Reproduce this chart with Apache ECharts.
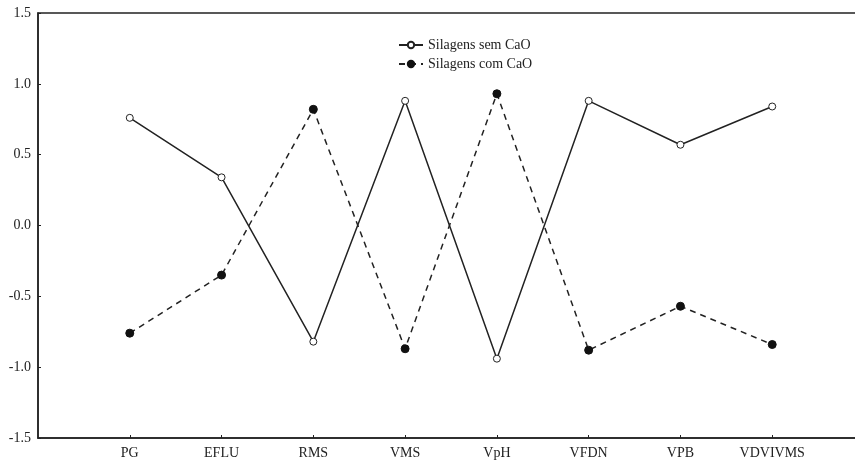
<!DOCTYPE html>
<html>
<head>
<meta charset="utf-8">
<script src="https://cdn.jsdelivr.net/npm/echarts@6/dist/echarts.min.js"></script>
<style>
  html, body { margin: 0; padding: 0; background: #fff; }
  #chart { width: 855px; height: 462px; }
</style>
</head>
<body>
<div id="chart"></div>
<script>
// categorias do eixo x
let categorias = ['PG', 'EFLU', 'RMS', 'VMS', 'VpH', 'VFDN', 'VPB', 'VDVIVMS']
// valores
let semCaO = [0.76, 0.34, -0.82, 0.88, -0.94, 0.88, 0.57, 0.84]
let comCaO = [-0.76, -0.35, 0.82, -0.87, 0.93, -0.88, -0.57, -0.84]
let yTicks = [-1.5, -1.0, -0.5, 0.0, 0.5, 1.0, 1.5]

let fonte = 'Liberation Serif'
let cor = '#222'

// posicoes vazias nas pontas para deixar espaco antes do PG e depois do ultimo
let cats = [''].concat(categorias, [''])
let pad = function(arr) { return [null].concat(arr, [null]) }

let setChart = function(ele, options) {
    if (typeof echarts === 'object') {
        let myChart = echarts.init(ele)
        myChart.setOption(options)
        return myChart
    }
}

setChart(document.getElementById('chart'), {
    animation: false,
    backgroundColor: '#fff',
    grid: {
        left: 38, top: 13, right: -9, bottom: 24,
        outerBoundsMode: 'none',
        show: true, borderColor: cor, borderWidth: 1.5
    },
    legend: {
        orient: 'vertical',
        left: 393, top: 33,
        itemGap: 5, itemWidth: 24, itemHeight: 8,
        textStyle: { fontFamily: fonte, fontSize: 14, color: '#222' },
        data: ['Silagens sem CaO', 'Silagens com CaO']
    },
    xAxis: {
        type: 'category',
        data: cats,
        boundaryGap: false,
        axisLine: { onZero: false, lineStyle: { color: cor, width: 1.5 } },
        axisTick: {
            inside: true, length: 3,
            lineStyle: { color: cor },
            interval: function(i) { return i > 0 && i < cats.length - 1 }
        },
        axisLabel: {
            interval: 0, margin: 8,
            fontFamily: fonte, fontSize: 14, color: '#222'
        },
        splitLine: { show: false }
    },
    yAxis: {
        type: 'value',
        min: yTicks[0], max: yTicks[yTicks.length - 1], interval: 0.5,
        axisLine: { show: true, lineStyle: { color: cor, width: 1.5 } },
        axisTick: { show: true, inside: true, length: 3, lineStyle: { color: cor } },
        axisLabel: {
            margin: 7, fontFamily: fonte, fontSize: 14, color: '#222',
            formatter: function(v) { return v.toFixed(1) }
        },
        splitLine: { show: false }
    },
    series: [
        {
            name: 'Silagens sem CaO',
            type: 'line',
            data: pad(semCaO),
            symbol: 'circle', symbolSize: 7,
            itemStyle: { color: '#fff', borderColor: cor, borderWidth: 1 },
            lineStyle: { color: cor, width: 1.5, type: 'solid' }
        },
        {
            name: 'Silagens com CaO',
            type: 'line',
            data: pad(comCaO),
            symbol: 'circle', symbolSize: 8,
            itemStyle: { color: '#111', borderColor: '#111', borderWidth: 1 },
            lineStyle: { color: cor, width: 1.5, type: [6, 5] }
        }
    ]
})
</script>
</body>
</html>
